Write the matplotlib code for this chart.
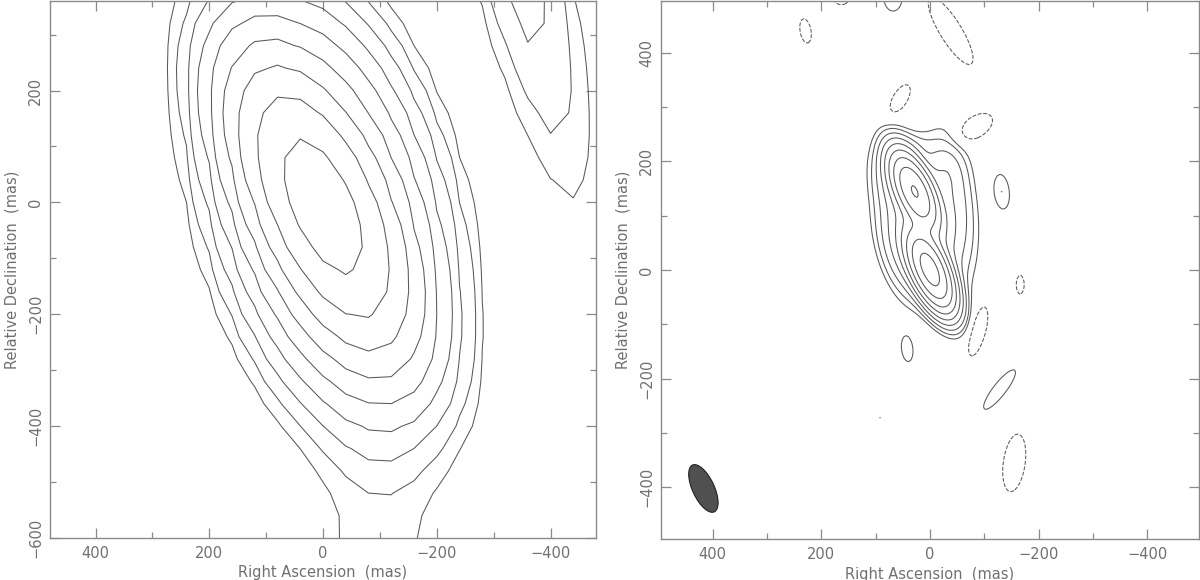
import numpy as np
import matplotlib
matplotlib.use('Agg')
import matplotlib.pyplot as plt
from matplotlib.patches import Ellipse
from matplotlib.ticker import MultipleLocator

# ---------------- data: Gaussian components of the two maps ----------------
# left map (low resolution): ra, dec (mas), peak, sigma_ra, sigma_dec, correlation
left_ra   = [3, -12, -100, -80, -324]
left_dec  = [-5, -10, -300, -700, 520]
left_peak = [0.8, 0.25, 0.006, 0.003, 0.0167]
left_sra  = [74, 88, 60, 130, 75]
left_sdec = [125, 165, 180, 100, 267]
left_rho  = [0.64, 0.35, 0.0, 0.0, 0.8]
left_levels = [0.68 / 2 ** k for k in range(8, -1, -1)]

# right map (high resolution): core components
right_ra   = [0, 28, 60, -40, 55, 20, -20, 30]
right_dec  = [0, 145, 160, 120, 30, 80, 180, 225]
right_peak = [1.0, 0.74, 0.02, 0.02, 0.02, 0.05, 0.01, 0.006]
right_sra  = [22, 22, 25, 25, 25, 35, 25, 25]
right_sdec = [37, 36, 40, 70, 50, 60, 30, 20]
right_rho  = [0.6, 0.6, 0.3, 0.3, 0.5, 0.5, 0.0, 0.0]

# right map noise islands (peak in units of the lowest contour)
noise_ra   = [-132, 42, -128, 68, 91, 95, 229, -38, 55, -82, -166, -88, -155, 163]
noise_dec  = [144, -145, -220, 500, -271, -122, 440, 440, 315, 262, -27, -112, -355, 500]
noise_peak = [2.0, 2.0, 2.0, 2.0, 1.05, 1.05, -2.0, -2.3, -2.0, -2.0, -1.7, -2.0, -2.0, -2.0]
noise_sra  = [12, 9, 25, 14, 4, 5, 9, 32, 16, 28, 7, 16, 18, 12]
noise_sdec = [27, 20, 31, 20, 8, 5, 19, 48, 22, 22, 17, 40, 45, 10]
noise_rho  = [0.2, 0.2, -0.87, 0.0, 0.0, 0.0, 0.3, 0.83, -0.6, -0.5, 0.0, -0.6, -0.3, 0.0]

right_lowest = 0.0029
right_levels = [-right_lowest] + [right_lowest * 2 ** k for k in range(9)]

# restoring beam of the right map
beam_ra, beam_dec = 417, -402
beam_major, beam_minor, beam_angle = 95, 40, -25

# axes ranges and ticks
left_xlim, left_ylim = (480, -480), (-600, 360)
right_xlim, right_ylim = (495, -495), (-495, 495)
x_ticks = [400, 200, 0, -200, -400]
left_yticks = [-600, -400, -200, 0, 200]
right_yticks = [-400, -200, 0, 200, 400]


def gauss_field(X, Y, ras, decs, peaks, sras, sdecs, rhos, scale=1.0):
    Z = np.zeros_like(X)
    for ra, dec, p, sx, sy, r in zip(ras, decs, peaks, sras, sdecs, rhos):
        dx = (X - ra) / sx
        dy = (Y - dec) / sy
        q = (dx * dx - 2 * r * dx * dy + dy * dy) / (1 - r * r)
        Z += p * scale * np.exp(-0.5 * q)
    return Z


LINE = '#585858'
FRAME = '#8a8a8a'
TEXT = '#707070'
plt.rcParams['font.family'] = ['DejaVu Sans']
plt.rcParams['axes.unicode_minus'] = True

fig = plt.figure(figsize=(12, 5.8), dpi=100)
axL = fig.add_axes([50 / 1200, 1 - 538 / 580, 546 / 1200, 537 / 580])
axR = fig.add_axes([661 / 1200, 1 - 539 / 580, 538 / 1200, 538 / 580])

# left map on a coarse grid
g = np.arange(-1200, 1201, 40.0)
XL, YL = np.meshgrid(g, g)
ZL = gauss_field(XL, YL, left_ra, left_dec, left_peak, left_sra, left_sdec, left_rho)
axL.contour(XL, YL, ZL, levels=left_levels, colors=LINE, linewidths=0.75,
            linestyles='solid')

# right map on a fine grid
h = np.arange(-600, 601, 4.0)
XR, YR = np.meshgrid(h, h)
ZR = gauss_field(XR, YR, right_ra, right_dec, right_peak, right_sra, right_sdec, right_rho)
ZR += gauss_field(XR, YR, noise_ra, noise_dec, noise_peak, noise_sra, noise_sdec,
                  noise_rho, scale=right_lowest)
styles = ['dashed' if lv < 0 else 'solid' for lv in right_levels]
axR.contour(XR, YR, ZR, levels=right_levels, colors=LINE, linewidths=0.75,
            linestyles=styles)
axR.add_patch(Ellipse((beam_ra, beam_dec), beam_minor, beam_major, angle=beam_angle,
                      facecolor='#505050', edgecolor='#222222', lw=0.8, zorder=5))

for ax, xl, yl, yt in [(axL, left_xlim, left_ylim, left_yticks),
                       (axR, right_xlim, right_ylim, right_yticks)]:
    ax.set_xlim(*xl)
    ax.set_ylim(*yl)
    ax.set_xticks(x_ticks)
    ax.set_yticks(yt)
    ax.xaxis.set_minor_locator(MultipleLocator(100))
    ax.yaxis.set_minor_locator(MultipleLocator(100))
    ax.tick_params(which='both', direction='in', top=True, right=True,
                   color=FRAME, labelcolor=TEXT, labelsize=10.5, width=0.9)
    ax.tick_params(which='major', length=7)
    ax.tick_params(which='minor', length=4)
    ax.tick_params(axis='x', pad=6)
    ax.tick_params(axis='y', pad=5)
    for lab in ax.get_yticklabels():
        lab.set_rotation(90)
        lab.set_va('center')
    for sp in ax.spines.values():
        sp.set_color(FRAME)
        sp.set_linewidth(1.0)
    ax.set_xlabel('Right Ascension  (mas)', color=TEXT, fontsize=10.5, labelpad=3)
    ax.set_ylabel('Relative Declination  (mas)', color=TEXT, fontsize=10.5, labelpad=6)

fig.savefig('out.png', dpi=100)
